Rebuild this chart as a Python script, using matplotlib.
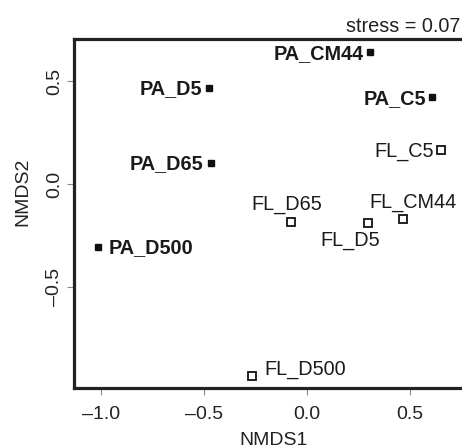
import matplotlib
matplotlib.use("Agg")
import matplotlib.pyplot as plt
from matplotlib.ticker import FuncFormatter

plt.rcParams['font.family'] = ['Liberation Sans', 'DejaVu Sans']

labels = ["PA_CM44", "PA_D5", "PA_C5", "PA_D65", "PA_D500",
          "FL_C5", "FL_D65", "FL_D5", "FL_CM44", "FL_D500"]
nmds1 = [0.306, -0.476, 0.607, -0.466, -1.015,
         0.650, -0.078, 0.296, 0.466, -0.267]
nmds2 = [0.640, 0.466, 0.422, 0.102, -0.305,
         0.165, -0.184, -0.190, -0.170, -0.930]
fraction = ["PA"] * 5 + ["FL"] * 5
stress = 0.07

# label placement (offset in pixels, ha, va)
place = {
    "PA_CM44": (-6, -1, 'right', 'center'),
    "PA_D5": (-7, -1, 'right', 'center'),
    "PA_C5": (-6, -1, 'right', 'center'),
    "PA_D65": (-8, -1, 'right', 'center'),
    "PA_D500": (11, -1, 'left', 'center'),
    "FL_C5": (-7, -1, 'right', 'center'),
    "FL_D65": (-4, 17, 'center', 'center'),
    "FL_D5": (-18, -17, 'center', 'center'),
    "FL_CM44": (10, 17, 'center', 'center'),
    "FL_D500": (12, 6, 'left', 'center'),
}

W, H = 462, 448
fig = plt.figure(figsize=(W / 100, H / 100), dpi=100)
ax = fig.add_axes([74 / W, 60 / H, 400 / W, 349 / H])

for lab, x, y, fr in zip(labels, nmds1, nmds2, fraction):
    if fr == "PA":
        ax.plot([x], [y], marker='s', ms=5, color='#111111', mec='#111111', ls='none')
    else:
        ax.plot([x], [y], marker='s', ms=5.5, mfc='white', mec='#111111', mew=1.3, ls='none')
    dx, dy, ha, va = place[lab]
    ax.annotate(lab, (x, y), xytext=(dx * 0.72, dy * 0.72), textcoords='offset points',
                ha=ha, va=va, fontsize=14.3,
                fontweight='bold' if fr == "PA" else 'normal', color='#1a1a1a')

ax.set_xlim(-1.131, 0.811)
ax.set_ylim(-0.99, 0.704)
ax.set_xticks([-1.0, -0.5, 0.0, 0.5])
ax.set_yticks([-0.5, 0.0, 0.5])
fmt = FuncFormatter(lambda v, p: ("%.1f" % v).replace("-", "\u2013"))
ax.xaxis.set_major_formatter(fmt)
ax.yaxis.set_major_formatter(fmt)
ax.tick_params(axis='both', length=5, width=0.8, color='#888888', labelsize=14, labelcolor='#222222')
ax.tick_params(axis='x', pad=8)
ax.tick_params(axis='y', pad=3)
for t in ax.get_yticklabels():
    t.set_rotation(90)
    t.set_va('center')
for s in ax.spines.values():
    s.set_linewidth(2.3)
    s.set_color('#222222')

fig.text(274 / W, 1 - 440 / H, "NMDS1", ha='center', va='center', fontsize=14, color='#222222')
fig.text(23 / W, 1 - 192 / H, "NMDS2", ha='center', va='center', fontsize=14, rotation=90, color='#222222')
fig.text(460 / W, 1 - 26 / H, "stress = %.2f" % stress, ha='right', va='center', fontsize=14.3, color='#222222')

fig.savefig("out.png", dpi=100)
